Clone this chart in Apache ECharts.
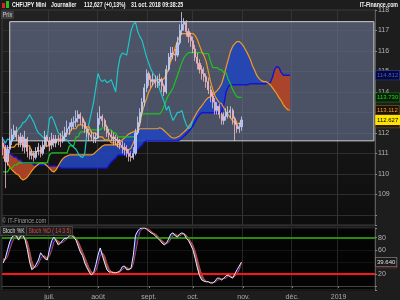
<!DOCTYPE html>
<html><head><meta charset="utf-8">
<script src="https://cdn.jsdelivr.net/npm/echarts@6/dist/echarts.min.js"></script>
<style>html,body{margin:0;padding:0;background:#1d1d1d}#c{width:400px;height:300px}</style>
</head><body><div id="c"></div>
<script>
// ---- data ----
const startDate = '2018-06-01';
const endDate = '2019-01-23';
const monthLabels = ['janv.','févr.','mars','avr.','mai','juin','juil.','août','sept.','oct.','nov.','déc.'];

// [open, close, low, high] daily candles, 1 Jun 2018 .. 31 Oct 2018
const ohlc = [
 [111.5,111.3,110.9,111.8],[111.3,110.6,109.3,111.4],[110.6,111.2,110.4,111.4],[111.2,111.6,111.0,111.8],[111.6,111.9,111.4,112.2],
 [111.9,112.1,111.7,112.4],[112.1,111.8,111.6,112.3],[111.8,111.5,111.3,111.9],[111.5,111.8,111.3,112.0],[111.8,111.3,111.1,111.9],
 [111.3,111.7,111.0,112.1],[111.7,111.1,110.8,111.8],[111.1,110.9,110.7,111.3],[110.9,111.0,110.7,111.2],[111.0,110.8,110.6,111.1],
 [110.8,111.1,110.7,111.3],[111.1,111.3,110.9,111.5],[111.3,111.0,110.8,111.4],[111.0,111.4,110.9,111.6],[111.4,111.8,111.2,112.1],
 [111.8,111.6,111.3,111.9],[111.6,111.4,111.1,111.8],[111.4,111.7,111.2,112.0],[111.7,111.5,111.3,111.9],[111.5,111.7,111.3,111.9],
 [111.7,111.66,111.4,111.9],[111.66,111.6,111.3,112.0],[111.6,111.8,111.5,112.1],[111.8,112.0,111.6,112.3],[112.0,112.2,111.8,112.6],
 [112.2,112.3,111.9,112.5],[112.3,112.5,112.1,112.7],[112.5,112.55,112.2,112.8],[112.55,112.7,112.3,113.1],[112.7,112.9,112.5,113.1],
 [112.9,112.7,112.4,113.0],[112.7,112.5,112.2,112.8],[112.5,112.2,112.0,112.6],[112.2,112.0,111.8,112.3],[112.0,111.9,111.6,112.2],
 [111.9,111.8,111.6,112.1],[111.8,111.7,111.5,112.0],[111.7,111.75,111.5,112.0],[111.75,112.7,111.7,113.0],[112.7,112.8,112.4,113.3],
 [112.8,112.6,112.3,112.9],[112.6,112.3,112.1,112.7],[112.3,112.0,111.8,112.4],[112.0,111.9,111.7,112.2],[111.9,111.8,111.6,112.1],
 [111.8,111.7,111.4,112.0],[111.7,111.65,111.4,111.9],[111.65,111.5,111.3,111.8],[111.5,111.4,111.2,111.7],[111.4,111.3,111.0,111.6],
 [111.3,111.2,110.9,111.5],[111.2,111.0,110.8,111.4],[111.0,110.85,110.6,111.2],[110.85,110.8,110.6,111.1],[110.8,111.0,110.7,111.3],
 [111.0,112.0,110.9,112.2],[112.0,112.5,111.9,112.8],[112.5,113.0,112.3,113.2],[113.0,113.5,112.8,113.7],[113.5,114.2,113.3,114.4],
 [114.2,114.9,114.0,115.1],[114.9,114.6,114.3,115.0],[114.6,114.5,114.2,114.8],[114.5,114.6,114.3,114.9],[114.6,114.45,114.2,114.8],
 [114.45,114.5,114.2,114.8],[114.5,114.6,114.3,114.9],[114.6,114.3,114.0,114.7],[114.3,114.0,113.8,114.4],[114.0,115.1,113.9,115.3],
 [115.1,115.7,115.0,115.9],[115.7,115.9,115.5,116.2],[115.9,115.85,115.6,116.2],[115.85,115.8,115.5,116.1],[115.8,116.4,115.7,116.7],
 [116.4,117.0,116.3,117.3],[117.0,117.3,116.8,117.9],[117.3,117.4,117.0,117.6],[117.4,116.95,116.7,117.5],[116.95,116.7,116.4,117.1],
 [116.7,116.5,116.2,116.9],[116.5,116.1,115.9,116.7],[116.1,115.7,115.5,116.3],[115.7,115.4,115.1,115.9],[115.4,115.1,114.9,115.6],
 [115.1,114.9,114.6,115.3],[114.9,114.75,114.5,115.2],[114.75,114.5,114.2,114.9],[114.5,114.1,113.9,114.7],[114.1,113.8,113.5,114.3],
 [113.8,113.5,113.2,114.0],[113.5,113.1,112.9,113.7],[113.1,113.3,112.9,113.5],[113.3,112.9,112.7,113.4],[112.9,112.6,112.4,113.0],
 [112.6,112.8,112.4,113.0],[112.8,113.0,112.6,113.2],[113.0,113.0,112.7,113.3],[113.0,113.1,112.7,113.3],[113.1,112.7,112.4,113.2],
 [112.7,112.4,111.6,112.8],[112.4,112.2,112.0,112.6],[112.2,112.3,112.0,112.5],[112.3,112.627,112.1,112.8]
];

const tenkan = [
 111.26,111.26,111.26,111.30,111.30,111.30,111.45,111.45,111.45,111.45,
 111.36,111.36,111.36,111.07,111.07,111.07,111.12,111.12,111.12,111.36,
 111.36,111.36,111.56,111.56,111.56,111.70,111.70,111.70,111.95,111.95,
 111.95,112.20,112.20,112.20,112.39,112.39,112.39,112.29,112.29,112.29,
 112.00,112.00,112.00,111.80,111.80,111.80,111.66,111.66,111.66,111.51,
 111.51,111.51,111.31,111.31,111.31,111.17,111.17,111.17,111.26,111.50,
 111.80,112.15,112.40,113.00,113.37,113.67,114.00,114.20,114.40,114.50,
 114.60,114.60,114.60,114.65,114.85,115.15,115.50,115.82,116.17,116.46,
 116.70,116.85,116.85,116.85,116.85,116.85,116.85,116.75,116.56,116.26,
 115.97,115.77,115.48,114.99,114.50,114.11,113.81,113.62,113.47,113.42,
 113.23,113.03,112.88,112.74,112.59,112.49,112.466,112.466,112.466
];

const kijun = [
 110.09,110.09,110.09,110.28,110.28,110.43,110.43,110.53,110.53,110.53,
 110.53,110.53,110.53,110.53,110.53,110.53,110.53,110.53,110.53,110.53,
 110.53,110.92,111.02,111.02,111.02,111.02,111.02,111.02,111.02,111.02,
 111.36,111.36,111.36,111.80,111.80,112.05,112.05,112.05,112.15,112.15,
 112.15,112.15,112.15,112.15,112.15,112.25,112.25,112.15,112.15,112.15,
 112.00,112.00,111.80,111.80,111.80,111.80,111.80,111.80,111.80,111.80,
 111.80,112.15,112.74,112.93,112.93,112.93,112.93,112.93,112.93,112.93,
 112.93,112.93,113.08,113.32,113.62,113.86,114.00,114.20,114.50,114.80,
 115.14,115.43,115.68,115.82,115.92,115.92,115.92,115.92,115.92,115.92,
 115.92,115.87,115.87,115.87,115.48,115.19,115.19,115.19,115.09,115.09,
 114.94,114.94,114.60,114.40,114.11,113.91,113.76,113.73,113.73
];

const senkouA = [
 110.82,110.68,110.53,110.33,110.19,110.09,109.99,109.94,109.79,109.70,
 109.75,109.84,109.99,110.14,110.28,110.38,110.48,110.53,110.53,110.48,
 110.38,110.28,110.14,110.09,110.19,110.38,110.58,110.73,110.82,110.87,
 110.92,110.92,110.92,110.92,110.92,110.92,110.92,110.92,110.92,110.92,
 110.92,110.97,111.07,111.17,111.26,111.36,111.41,111.41,111.41,111.41,
 111.41,111.41,111.41,111.51,111.66,111.75,111.85,111.95,112.00,112.05,
 112.10,112.10,112.20,112.20,112.20,112.20,112.20,112.20,112.20,112.20,
 112.20,112.25,112.20,112.10,112.00,111.90,111.80,111.75,111.75,111.80,
 111.85,111.95,112.05,112.15,112.29,112.44,112.64,112.83,113.03,113.18,
 113.32,113.47,113.62,113.72,113.76,113.86,113.96,114.06,114.21,114.40,
 114.75,115.19,115.58,115.97,116.22,116.36,116.46,116.46,116.36,116.22,
 116.02,115.82,115.58,115.28,115.04,114.79,114.65,114.55,114.50,114.50,
 114.45,114.35,114.21,114.06,113.91,113.72,113.57,113.37,113.23,113.13,113.112
];

const senkouB = [
 111.75,111.46,111.21,111.02,110.92,110.82,110.82,110.68,110.68,110.53,
 110.53,110.53,110.53,110.53,110.43,110.43,110.43,110.43,110.43,110.43,
 110.38,110.38,110.38,110.38,110.38,110.38,110.28,110.28,110.28,110.28,
 110.28,110.28,110.28,110.28,110.28,110.28,110.28,110.28,110.28,110.28,
 110.28,110.28,110.28,110.28,110.28,110.28,110.28,110.28,110.43,110.58,
 110.68,110.77,110.92,110.92,110.92,110.92,110.92,110.92,111.02,111.02,
 111.17,111.17,111.31,111.41,111.56,111.61,111.61,111.61,111.61,111.61,
 111.61,111.61,111.61,111.61,111.61,111.61,111.61,111.61,111.61,111.61,
 111.66,111.75,111.85,111.95,112.05,112.20,112.34,112.54,112.74,112.88,
 112.98,112.98,112.98,112.98,112.98,112.98,112.98,112.98,112.98,112.98,
 113.37,114.00,114.25,114.35,114.35,114.35,114.35,114.35,114.35,114.35,
 114.35,114.35,114.40,114.40,114.40,114.40,114.40,114.40,114.40,114.40,
 114.45,114.45,114.70,115.09,115.24,115.19,114.94,114.812,114.812,114.812,114.812
];

const laggingShift = 22;

const stochK = [
 38,46,60,73,81,84,83,76,83,84,
 76,60,40,27,30,36,43,55,50,45,
 43,60,75,81,75,68,71,76,79,79,
 83,84,81,76,66,56,50,38,30,23,
 18,22,35,51,63,50,38,27,23,23,
 22,22,23,25,32,33,27,27,30,51,
 84,91,95,96,96,94,91,88,86,83,
 79,76,71,68,71,78,86,88,83,81,
 86,88,86,79,75,68,60,46,30,17,
 10,8,7,7,5,5,8,13,13,10,
 13,17,18,15,13,20,27,33,39.64
];
const stochD = [
 45,43,48,60,71,79,83,81,81,81,
 81,73,59,42,32,31,36,45,49,50,
 46,49,59,72,77,75,71,72,75,78,
 80,82,83,80,74,66,57,48,39,30,
 24,21,25,36,50,55,50,38,29,24,
 23,22,22,23,27,30,31,29,28,36,
 55,75,90,94,96,95,94,91,88,86,
 83,79,75,72,70,72,78,84,86,84,
 83,85,87,84,80,74,68,58,45,31,
 19,12,8,7,6,6,6,9,11,12,
 12,13,16,17,15,16,20,27,37.823
];
const stochLevels = [80, 20];
// highlighted zone: [fromIndex, top value, toIndex, bottom value]
const zone = [3, 117.43, 168, 111.61];

// ---- derived ----
const dates = [];
for (let d = new Date(startDate + 'T00:00:00Z'); d <= new Date(endDate + 'T00:00:00Z'); d.setUTCDate(d.getUTCDate() + 1)) {
  const w = d.getUTCDay();
  if (w === 0 || w === 6) continue;
  dates.push(d.toISOString().slice(0, 10));
}
const isMonthStart = (i) => i > 0 && dates[i].slice(5, 7) !== dates[i - 1].slice(5, 7);
const monthFmt = (v) => { const m = +v.slice(5, 7) - 1; return m === 0 ? v.slice(0, 4) : monthLabels[m]; };
const closes = ohlc.map(r => r[1]);
const chikou = closes.slice(laggingShift);
const cloudBase = senkouA.map((a, i) => Math.min(a, senkouB[i]));
const cloudUp = senkouA.map((a, i) => Math.max(a - senkouB[i], 0));
const cloudDown = senkouA.map((a, i) => Math.max(senkouB[i] - a, 0));
const stBase = stochK.map((k, i) => Math.min(k, stochD[i]));
const stUp = stochK.map((k, i) => Math.max(k - stochD[i], 0));
const stDown = stochK.map((k, i) => Math.max(stochD[i] - k, 0));
const last = (a) => a[a.length - 1];

const FONT = 'Liberation Sans';

function tag(val, color, bg, border) {
  return {
    silent: true, symbol: ['none', 'none'], animation: false,
    lineStyle: { color: 'rgba(0,0,0,0)', width: 0 },
    label: { show: true, position: 'end', distance: 1, formatter: () => val.toFixed(3),
      color: color, backgroundColor: bg, borderColor: border, borderWidth: 0.8,
      padding: [1, 1, 0, 1], fontSize: 6, lineHeight: 7.5, fontFamily: FONT },
    data: [{ yAxis: val }]
  };
}
const noLine = { symbol: 'none', showSymbol: false, silent: true };
const hdr = (x, text, extra) => Object.assign({ type: 'text', z: 100, x: x, y: 5, scaleX: 0.75,
  style: { text: text, fill: '#f2f2f2', font: 'bold 7px ' + FONT, verticalAlign: 'middle' } }, extra || {});

const chart = echarts.init(document.getElementById('c'), null, { renderer: 'canvas', width: 400, height: 300 });
const option = {
  animation: false,
  backgroundColor: '#1d1d1d',
  textStyle: { fontFamily: FONT },
  grid: [
    { left: 2, top: 10, width: 373, height: 215, show: true, outerBoundsMode: 'none', containLabel: false,
      backgroundColor: { type: 'linear', x: 0, y: 0, x2: 0, y2: 1, colorStops: [{ offset: 0, color: '#222222' }, { offset: 1, color: '#0d0d0d' }] },
      borderColor: '#3c3c3c', borderWidth: 1 },
    { left: 2, top: 228, width: 373, height: 62, show: true, outerBoundsMode: 'none', containLabel: false,
      backgroundColor: '#040404', borderColor: '#333', borderWidth: 1 }
  ],
  xAxis: [
    { type: 'category', gridIndex: 0, data: dates, boundaryGap: true,
      axisLine: { show: false }, axisTick: { show: false }, axisLabel: { show: false },
      splitLine: { show: true, interval: (i) => isMonthStart(i), lineStyle: { color: '#343434', width: 1 } } },
    { type: 'category', gridIndex: 1, data: dates, boundaryGap: true,
      axisLine: { show: true, lineStyle: { color: '#444' } },
      axisTick: { show: true, interval: (i) => isMonthStart(i), alignWithLabel: true, length: 2, lineStyle: { color: '#777' } },
      axisLabel: { show: true, interval: (i) => isMonthStart(i), formatter: monthFmt, color: '#aaa', fontSize: 7, margin: 4 },
      splitLine: { show: true, interval: (i) => isMonthStart(i), lineStyle: { color: '#262626' } } }
  ],
  yAxis: [
    { type: 'value', gridIndex: 0, position: 'right', min: 107.5, max: 118, splitNumber: 10,
      axisLine: { show: true, lineStyle: { color: '#5a5a5a' } },
      axisTick: { show: true, length: 2, lineStyle: { color: '#888' } },
      axisLabel: { color: '#b4b4b4', fontSize: 7, margin: 3, formatter: (v) => (Number.isInteger(v) && v >= 109) ? String(v) : '' },
      splitLine: { show: true, lineStyle: { color: '#2e2e2e' } } },
    { type: 'value', gridIndex: 1, position: 'right', min: -6.6, max: 96, splitNumber: 5,
      axisLine: { show: true, lineStyle: { color: '#5a5a5a' } },
      axisTick: { show: true, length: 2, lineStyle: { color: '#888' } },
      axisLabel: { color: '#b4b4b4', fontSize: 7, margin: 3, formatter: (v) => (v > 0 && v % 20 === 0) ? String(v) : '' },
      splitLine: { show: true, lineStyle: { color: '#141414' } } }
  ],
  series: [
    { name: 'zone', type: 'line', data: closes, ...noLine, z: 1, lineStyle: { width: 0, color: 'rgba(0,0,0,0)' },
      markArea: { silent: true,
        itemStyle: { color: 'rgba(110,120,153,0.6)', borderColor: '#d0d0d0', borderWidth: 1 },
        data: [[{ xAxis: dates[zone[0]], yAxis: zone[1] }, { xAxis: dates[zone[2]], yAxis: zone[3] }]] } },
    { name: 'cloudBase', type: 'line', data: cloudBase, stack: 'cloud', ...noLine, z: 2, lineStyle: { width: 0, color: 'rgba(0,0,0,0)' } },
    { name: 'cloudUp', type: 'line', data: cloudUp, stack: 'cloud', ...noLine, z: 2, lineStyle: { width: 0, color: 'rgba(0,0,0,0)' },
      areaStyle: { color: 'rgba(34,70,185,0.9)', opacity: 1 } },
    { name: 'cloudDown', type: 'line', data: cloudDown, stack: 'cloud', ...noLine, z: 2, lineStyle: { width: 0, color: 'rgba(0,0,0,0)' },
      areaStyle: { color: 'rgba(175,68,40,0.95)', opacity: 1 } },
    { name: 'senkouB', type: 'line', data: senkouB, ...noLine, z: 3, lineStyle: { color: '#1212d8', width: 1.4 },
      markLine: tag(last(senkouB), '#3a5cff', '#08082e', '#2a3aa0') },
    { name: 'senkouA', type: 'line', data: senkouA, ...noLine, z: 3, lineStyle: { color: '#f29a22', width: 1.2 },
      markLine: tag(last(senkouA), '#f0a030', '#1c1208', '#6a4a18') },
    { name: 'kijun', type: 'line', data: kijun, ...noLine, z: 3, lineStyle: { color: '#1ec41e', width: 1.2 },
      markLine: tag(last(kijun), '#2ed02e', '#082008', '#1a6a1a') },
    { name: 'chikou', type: 'line', data: chikou, ...noLine, z: 3, lineStyle: { color: '#1ec6c6', width: 1.2 } },
    { name: 'tenkan', type: 'line', data: tenkan, ...noLine, z: 4, lineStyle: { color: '#f29a22', width: 1.2 },
      markLine: tag(last(tenkan), '#e8a040', '#2a1a06', '#6a4a18') },
    { name: 'prix', type: 'candlestick', data: ohlc, z: 5, barWidth: 1.6, silent: true,
      itemStyle: { color: '#a9b9f0', color0: '#f0a9b0', borderColor: '#c8d2ff', borderColor0: '#f4bcc2', borderWidth: 0.8 },
      markLine: tag(last(closes), '#000', '#ffe400', '#ffe400') },

    { name: 'stBase', type: 'line', xAxisIndex: 1, yAxisIndex: 1, data: stBase, stack: 'st', ...noLine, z: 2,
      lineStyle: { width: 0, color: 'rgba(0,0,0,0)' },
      markLine: { silent: true, symbol: ['none', 'none'], label: { show: false },
        data: [{ yAxis: stochLevels[0], lineStyle: { color: '#2a8a0c', width: 2, type: 'solid' } },
               { yAxis: stochLevels[1], lineStyle: { color: '#ff1414', width: 2, type: 'solid' } }] } },
    { name: 'stUp', type: 'line', xAxisIndex: 1, yAxisIndex: 1, data: stUp, stack: 'st', ...noLine, z: 3,
      lineStyle: { width: 0, color: 'rgba(0,0,0,0)' }, areaStyle: { color: '#141890', opacity: 1 } },
    { name: 'stDown', type: 'line', xAxisIndex: 1, yAxisIndex: 1, data: stDown, stack: 'st', ...noLine, z: 3,
      lineStyle: { width: 0, color: 'rgba(0,0,0,0)' }, areaStyle: { color: '#93504e', opacity: 1 } },
    { name: 'stochD', type: 'line', xAxisIndex: 1, yAxisIndex: 1, data: stochD, ...noLine, z: 4,
      lineStyle: { color: '#b04a48', width: 1 },
      markLine: tag(last(stochD), '#ff4a4a', '#1a0808', '#7a3030') },
    { name: 'stochK', type: 'line', xAxisIndex: 1, yAxisIndex: 1, data: stochK, ...noLine, z: 5,
      lineStyle: { color: '#e6e6ff', width: 1 },
      markLine: tag(last(stochK), '#e0e0e0', '#1a1a1a', '#777') }
  ],
  graphic: [
    { type: 'rect', z: 100, shape: { x: 2, y: 3, width: 3, height: 5 }, style: { fill: '#e02020' } },
    { type: 'rect', z: 100, shape: { x: 6, y: 1, width: 3, height: 7 }, style: { fill: '#22c022' } },
    hdr(12, 'CHF/JPY Mini'),
    hdr(51, 'Journalier'),
    hdr(84, '112,627 (+0,13%)'),
    hdr(131, '31 oct. 2018 09:38:25'),
    hdr(398, 'IT-Finance.com', { style: { text: 'IT-Finance.com', fill: '#f2f2f2', font: 'bold 7px ' + FONT, align: 'right', verticalAlign: 'middle' } }),
    { type: 'text', z: 100, x: 1, y: 11, scaleX: 0.8, style: { text: 'Prix', fill: '#cfcfcf', font: '7px ' + FONT, backgroundColor: '#3c3c3c', padding: [1, 2, 0, 2] } },
    { type: 'text', z: 100, x: 2, y: 218, scaleX: 0.8, style: { text: '© IT-Finance.com', fill: '#9a9a9a', font: '7px ' + FONT } },
    { type: 'text', z: 100, x: 1, y: 227, scaleX: 0.72, style: { text: 'Stoch %K', fill: '#d8d8d8', font: '7px ' + FONT, backgroundColor: '#1e1e1e', borderColor: '#555', borderWidth: 0.8, padding: [1, 2, 0, 2] } },
    { type: 'text', z: 100, x: 27, y: 227, scaleX: 0.72, style: { text: 'Stoch %D ( 14 3 5)', fill: '#e04848', font: '7px ' + FONT, backgroundColor: '#1e1e1e', borderColor: '#555', borderWidth: 0.8, padding: [1, 2, 0, 2] } }
  ]
};
chart.setOption(option);
</script>
</body></html>
